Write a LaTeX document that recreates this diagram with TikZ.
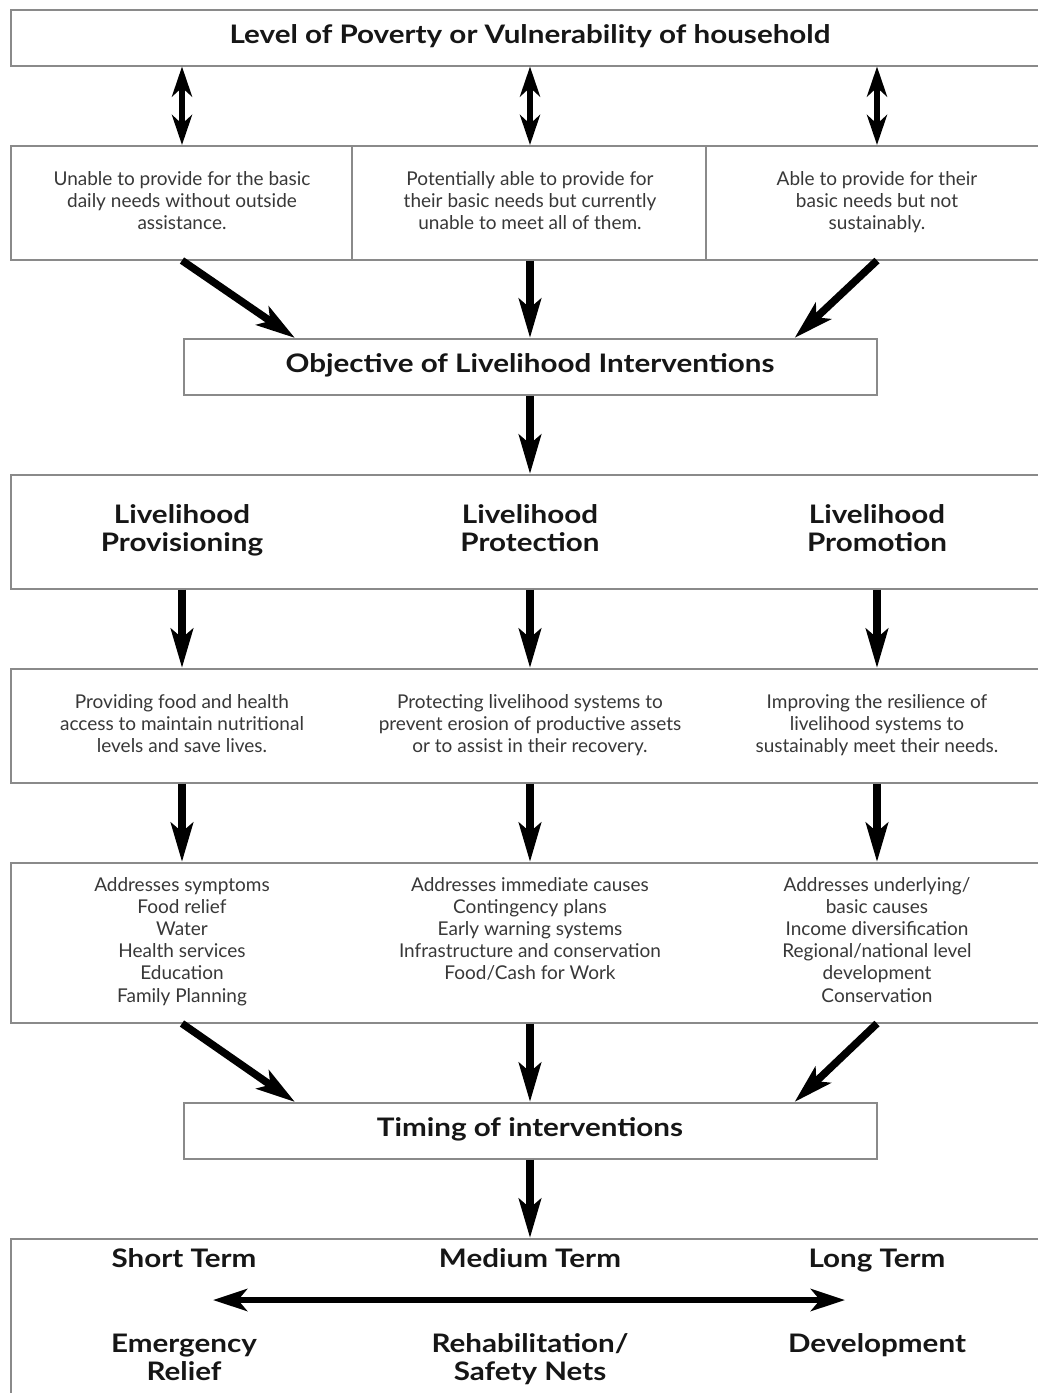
\documentclass[tikz,border=0pt]{standalone}
\usepackage{fontspec}
\setmainfont{Lato}
\newfontfamily\headfont{Lato}[FakeStretch=1.16]
\usetikzlibrary{arrows.meta}
\definecolor{edge}{HTML}{8A8A8A}
\definecolor{ink}{HTML}{383838}
\definecolor{head}{HTML}{161616}
\begin{document}
\begin{tikzpicture}[x=1pt,y=-1pt,
  band/.style={draw=edge, line width=1.5pt, inner sep=0pt, anchor=north west, fill=white},
  rule/.style={draw=edge, line width=1.5pt},
  body/.style={text=ink, font=\fontsize{19}{22.2}\selectfont, align=center, inner sep=0pt, anchor=base},
  heading/.style={text=head, font=\headfont\bfseries\fontsize{25.5}{28}\selectfont, align=center, inner sep=0pt, anchor=base},
  flow/.style={line width=7.5pt, -{Stealth[length=39pt,width=22pt,inset=9pt]}},
  twoway/.style={line width=5.5pt, {Stealth[length=30pt,width=20pt,inset=9pt]}-{Stealth[length=30pt,width=20pt,inset=9pt]}},
  span/.style={line width=6.5pt, {Stealth[length=34pt,width=22pt,inset=9pt]}-{Stealth[length=34pt,width=22pt,inset=9pt]}},
]
\useasboundingbox (0,0) rectangle (1038,1393);
\clip (0,0) rectangle (1038,1393);
\fill[white] (0,0) rectangle (1038,1393);

% text nodes are placed by the baseline of their last line

% level of poverty
\node[band, minimum width=1040pt, minimum height=56pt] (poverty) at (10,9) {};
\node[heading] (povertyT) at (530,43) {Level of Poverty or Vulnerability of household};

% household situations
\node[band, minimum width=1040pt, minimum height=114pt] (need) at (10,145) {};
\draw[rule] (352,145) -- (352,259);
\draw[rule] (706,145) -- (706,259);
\node[body] (need1) at (182,229.4) {Unable to provide for the basic\\daily needs without outside\\assistance.};
\node[body] (need2) at (530,229.4) {Potentially able to provide for\\their basic needs but currently\\unable to meet all of them.};
\node[body] (need3) at (877,229.4) {Able to provide for their\\basic needs but not\\sustainably.};

% objective
\node[band, minimum width=693pt, minimum height=56pt] (objective) at (183,338) {};
\node[heading] (objectiveT) at (530,372) {Objective of Livelihood Interventions};

% intervention types
\node[band, minimum width=1040pt, minimum height=114pt] (types) at (10,474) {};
\node[heading] (type1) at (182,551) {Livelihood\\Provisioning};
\node[heading] (type2) at (530,551) {Livelihood\\Protection};
\node[heading] (type3) at (877,551) {Livelihood\\Promotion};

% aims
\node[band, minimum width=1040pt, minimum height=114pt] (aims) at (10,668) {};
\node[body] (aim1) at (182,752.5) {Providing food and health\\access to maintain nutritional\\levels and save lives.};
\node[body] (aim2) at (530,752.5) {Protecting livelihood systems to\\prevent erosion of productive assets\\or to assist in their recovery.};
\node[body] (aim3) at (877,752.5) {Improving the resilience of\\livelihood systems to\\sustainably meet their needs.};

% actions
\node[band, minimum width=1040pt, minimum height=160pt] (actions) at (10,862) {};
\node[body] (act1) at (182,1002) {Addresses symptoms\\Food relief\\Water\\Health services\\Education\\Family Planning};
\node[body] (act2) at (530,979.8) {Addresses immediate causes\\Contingency plans\\Early warning systems\\Infrastructure and conservation\\Food/Cash for Work};
\node[body] (act3) at (877,1002) {Addresses underlying/\\basic causes\\Income diversification\\Regional/national level\\development\\Conservation};

% timing
\node[band, minimum width=693pt, minimum height=56pt] (timing) at (183,1102) {};
\node[heading] (timingT) at (530,1136) {Timing of interventions};

% terms
\node[band, minimum width=1040pt, minimum height=200pt] (term) at (10,1238) {};
\node[heading] (short) at (184,1267) {Short Term};
\node[heading] (medium) at (530,1267) {Medium Term};
\node[heading] (long) at (877,1267) {Long Term};
\node[heading] (relief) at (184,1380) {Emergency\\Relief};
\node[heading] (rehab) at (530,1380) {Rehabilitation/\\Safety Nets};
\node[heading] (devel) at (877,1352) {Development};
\coordinate (spanL) at (213,1300);
\coordinate (spanR) at (845,1300);

% connectors
\foreach \c in {need1,need2,need3}
  \draw[twoway] (poverty.south -| \c) -- (need.north -| \c);
\draw[flow] (need.south -| need1) -- ([xshift=112pt]objective.north west);
\draw[flow] (need.south -| need2) -- (objective.north -| need2);
\draw[flow] (need.south -| need3) -- ([xshift=-83pt]objective.north east);
\draw[flow] (objective.south -| need2) -- (types.north -| need2);
\foreach \c in {type1,type2,type3}
  \draw[flow] (types.south -| \c) -- (aims.north -| \c);
\foreach \c in {aim1,aim2,aim3}
  \draw[flow] (aims.south -| \c) -- (actions.north -| \c);
\draw[flow] (actions.south -| act1) -- ([xshift=112pt]timing.north west);
\draw[flow] (actions.south -| act2) -- (timing.north -| act2);
\draw[flow] (actions.south -| act3) -- ([xshift=-83pt]timing.north east);
\draw[flow] (timing.south -| act2) -- (term.north -| act2);
\draw[span] (spanL) -- (spanR);
\end{tikzpicture}
\end{document}
